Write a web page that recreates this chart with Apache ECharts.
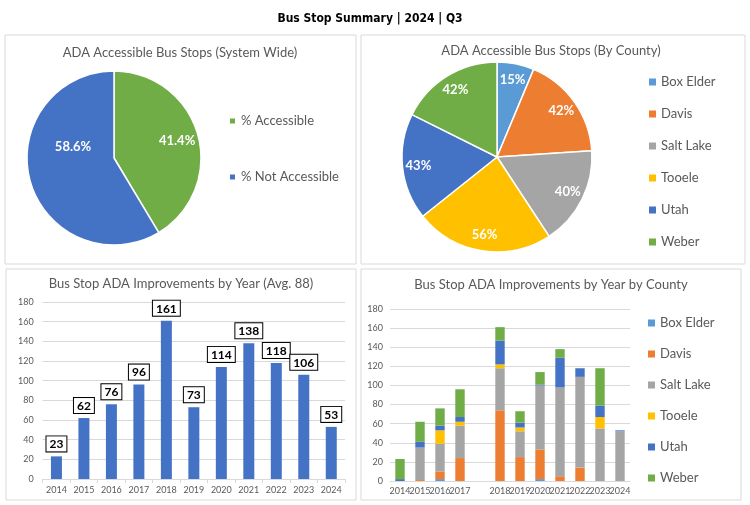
<!DOCTYPE html>
<html><head><meta charset="utf-8">
<script src="https://cdn.jsdelivr.net/npm/echarts@6.0.0/dist/echarts.min.js"></script>
<style>html,body{margin:0;padding:0;background:#fff}#c{width:750px;height:505px}</style>
</head><body><div id="c"></div>
<script>
// ---- data ----
const pageTitle = 'Bus Stop Summary | 2024 | Q3';
const titleSystem = 'ADA Accessible Bus Stops (System Wide)';
const titleCounty = 'ADA Accessible Bus Stops (By County)';
const titleYear = 'Bus Stop ADA Improvements by Year (Avg. 88)';
const titleYearCounty = 'Bus Stop ADA Improvements by Year by County';

const sysNames = ['% Accessible', '% Not Accessible'];
const sysValues = [41.4, 58.6];

const counties = ['Box Elder', 'Davis', 'Salt Lake', 'Tooele', 'Utah', 'Weber'];
const countyPct = [15, 42, 40, 56, 43, 42];

const years = ['2014','2015','2016','2017','2018','2019','2020','2021','2022','2023','2024'];
const yearTotals = [23, 62, 76, 96, 161, 73, 114, 138, 118, 106, 53];

const countyYears = ['2014','2015','2016','2017','','2018','2019','2020','2021','2022','2023','2024'];
const boxElder = [0, 0, 2, 0, null, 0, 0, 2, 0, 0, 0, 0];
const davis    = [0, 1, 8, 24, null, 74, 25, 31, 5, 14, 0, 0];
const saltLake = [0, 34, 29, 34, null, 44, 27, 67, 93, 95, 55, 52];
const tooele   = [0, 0, 14, 4, null, 4, 4, 0, 0, 0, 12, 0];
const utah     = [2, 6, 5, 5, null, 25, 5, 1, 31, 9, 12, 1];
const weber    = [21, 21, 18, 29, null, 14, 12, 13, 9, 0, 39, 0];

const yTicks = { min: 0, max: 180, interval: 20 };

// ---- styles ----
const countyColors = ['#5B9BD5', '#ED7D31', '#A5A5A5', '#FFC000', '#4472C4', '#70AD47'];
const sysColors = ['#70AD47', '#4472C4'];
const grey = '#595959';
const lineGrey = '#d9d9d9';
const font = 'Lato, "Open Sans", sans-serif';

const stackData = [boxElder, davis, saltLake, tooele, utah, weber];

const chart = echarts.init(document.getElementById('c'), null, { renderer: 'canvas' });

const titleStyle = { fontSize: 13, fontWeight: 'normal', color: grey, fontFamily: font };
const legendText = { fontSize: 13, color: grey, lineHeight: 14, fontFamily: font };

const option = {
  animation: false,
  textStyle: { fontFamily: font },
  title: [
    { text: pageTitle, left: 370, top: 13, padding: 0, textAlign: 'center',
      textStyle: { fontSize: 12, fontWeight: 'bold', color: '#000', fontFamily: '"Liberation Sans Narrow", "DejaVu Sans Condensed", sans-serif' } },
    { text: titleSystem, left: 180, top: 46, padding: 0, textAlign: 'center', textStyle: titleStyle },
    { text: titleCounty, left: 551, top: 44, padding: 0, textAlign: 'center', textStyle: titleStyle },
    { text: titleYear, left: 181, top: 277, padding: 0, textAlign: 'center', textStyle: titleStyle },
    { text: titleYearCounty, left: 551, top: 278, padding: 0, textAlign: 'center', textStyle: titleStyle }
  ],
  graphic: [
    { type: 'rect', z: -10, shape: { x: 5, y: 35, width: 351, height: 229 }, style: { fill: 'none', stroke: lineGrey, lineWidth: 1 } },
    { type: 'rect', z: -10, shape: { x: 361, y: 35, width: 384, height: 229 }, style: { fill: 'none', stroke: lineGrey, lineWidth: 1 } },
    { type: 'rect', z: -10, shape: { x: 6, y: 269, width: 350, height: 231 }, style: { fill: 'none', stroke: lineGrey, lineWidth: 1 } },
    { type: 'rect', z: -10, shape: { x: 361, y: 269, width: 380, height: 231 }, style: { fill: 'none', stroke: lineGrey, lineWidth: 1 } }
  ],
  legend: [
    { data: sysNames, orient: 'vertical', left: 228, top: 114, padding: 0, itemGap: 42, itemWidth: 7, itemHeight: 7, icon: 'rect',
      textStyle: legendText, selectedMode: false },
    { data: counties, orient: 'vertical', left: 649, top: 75, padding: 0, itemGap: 18, itemWidth: 7, itemHeight: 7, icon: 'rect',
      textStyle: legendText, selectedMode: false },
    { data: counties, orient: 'vertical', left: 648, top: 316, padding: 0, itemGap: 17, itemWidth: 7, itemHeight: 7, icon: 'rect',
      textStyle: legendText, selectedMode: false }
  ],
  grid: [
    { left: 42.7, top: 302, width: 302.3, height: 177, containLabel: false },
    { left: 390, top: 309, width: 240, height: 172, containLabel: false }
  ],
  xAxis: [
    { type: 'category', gridIndex: 0, data: years,
      axisLine: { lineStyle: { color: lineGrey } },
      axisTick: { show: true, length: 4, lineStyle: { color: lineGrey } },
      axisLabel: { fontSize: 9, color: grey, margin: 7, interval: 0 } },
    { type: 'category', gridIndex: 1, data: countyYears,
      axisLine: { lineStyle: { color: lineGrey } },
      axisTick: { show: false },
      axisLabel: { fontSize: 9, color: grey, margin: 6, interval: 0 } }
  ],
  yAxis: [
    { type: 'value', gridIndex: 0, min: yTicks.min, max: yTicks.max, interval: yTicks.interval,
      axisLine: { show: false }, axisTick: { show: false },
      axisLabel: { fontSize: 9, color: grey, margin: 9 },
      splitLine: { lineStyle: { color: lineGrey } } },
    { type: 'value', gridIndex: 1, min: yTicks.min, max: yTicks.max, interval: yTicks.interval,
      axisLine: { show: false }, axisTick: { show: false },
      axisLabel: { fontSize: 9, color: grey, margin: 7 },
      splitLine: { lineStyle: { color: lineGrey } } }
  ],
  series: [
    // system-wide pie
    { type: 'pie', name: 'system', center: [114, 158], radius: [0, 87], startAngle: 90, clockwise: true,
      color: sysColors, label: { show: false }, labelLine: { show: false }, silent: true,
      itemStyle: { borderColor: '#fff', borderWidth: 1.5 },
      data: sysNames.map((n, i) => ({ name: n, value: sysValues[i] })) },
    // county pie
    { type: 'pie', name: 'county', center: [497, 157], radius: [0, 95], startAngle: 90, clockwise: true,
      color: countyColors, label: { show: false }, labelLine: { show: false }, silent: true,
      itemStyle: { borderColor: '#fff', borderWidth: 1.5 },
      data: counties.map((n, i) => ({ name: n, value: countyPct[i] })) },
    // label rings (transparent) for pie labels
    { type: 'pie', name: 'sysLabelA', center: [114, 158], radius: [38, 87], startAngle: 90, silent: true,
      itemStyle: { color: 'rgba(0,0,0,0)', borderWidth: 0 }, labelLine: { show: false },
      label: { show: true, position: 'inside', formatter: '{c}%', color: '#fff', fontWeight: 'bold', fontSize: 13, fontFamily: font },
      data: sysNames.map((n, i) => ({ name: n, value: sysValues[i], label: { show: i === 0 } })) },
    { type: 'pie', name: 'sysLabelB', center: [114, 158], radius: [0, 79], startAngle: 90, silent: true,
      itemStyle: { color: 'rgba(0,0,0,0)', borderWidth: 0 }, labelLine: { show: false },
      label: { show: true, position: 'inside', formatter: '{c}%\n ', lineHeight: 45, color: '#fff', fontWeight: 'bold', fontSize: 13, fontFamily: font },
      data: sysNames.map((n, i) => ({ name: n, value: sysValues[i], label: { show: i === 1 } })) },
    { type: 'pie', name: 'countyLabels', center: [497, 157], radius: [57, 95], startAngle: 90, silent: true,
      itemStyle: { color: 'rgba(0,0,0,0)', borderWidth: 0 }, labelLine: { show: false },
      label: { show: true, position: 'inside', formatter: '{c}%', color: '#fff', fontWeight: 'bold', fontSize: 13, fontFamily: font },
      data: counties.map((n, i) => ({ name: n, value: countyPct[i] })) },
    // yearly totals
    { type: 'bar', name: 'Total', xAxisIndex: 0, yAxisIndex: 0, data: yearTotals, barWidth: '40%',
      itemStyle: { color: '#4472C4' },
      label: { show: true, position: 'top', distance: 5, formatter: '{c}', color: '#000', fontWeight: 'bold', fontSize: 12,
        backgroundColor: '#fff', borderColor: '#000', borderWidth: 1, padding: [2, 3, 1, 3], fontFamily: font } },
    // stacked by county
    ...counties.map((n, i) => ({
      type: 'bar', name: n, xAxisIndex: 1, yAxisIndex: 1, stack: 'county', data: stackData[i], barWidth: '47%',
      itemStyle: { color: countyColors[i] }
    }))
  ]
};
chart.setOption(option);
</script>
</body></html>
